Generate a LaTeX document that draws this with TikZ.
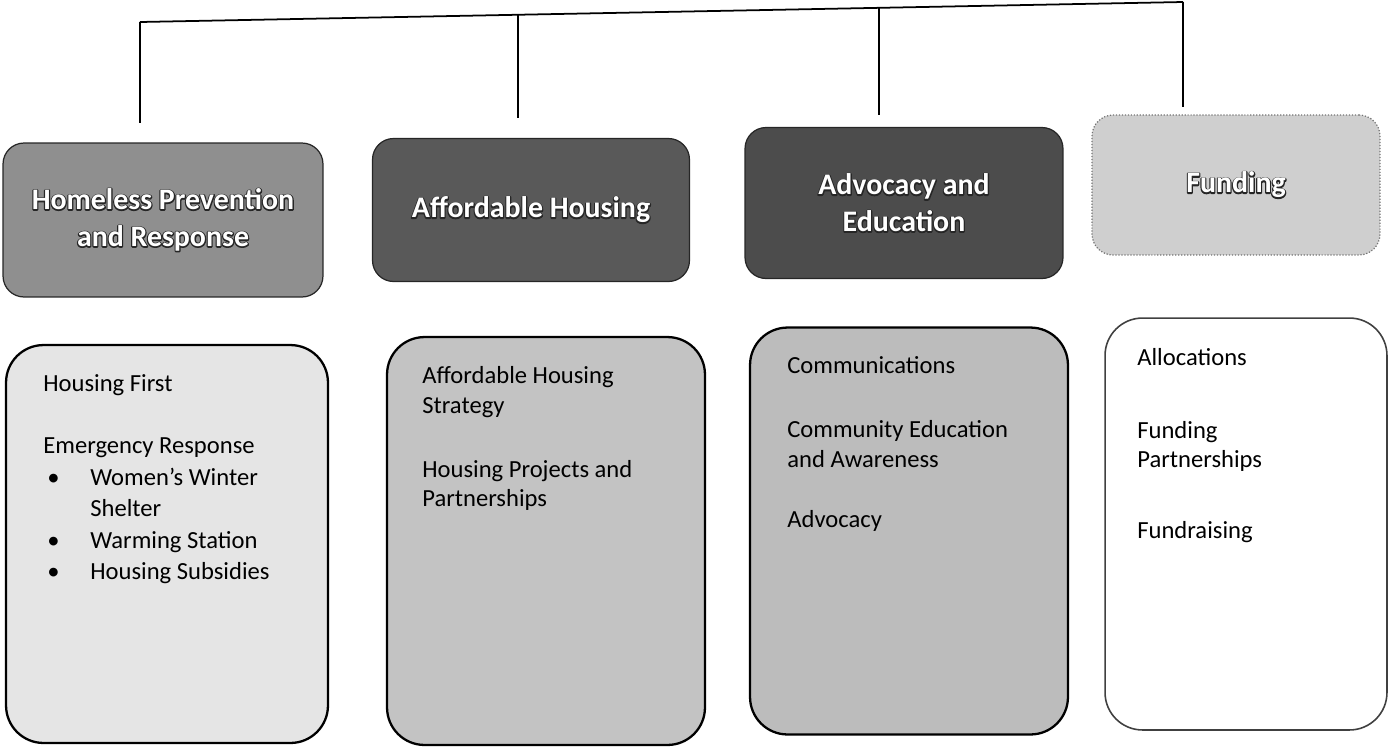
\documentclass[tikz,border=0pt]{standalone}
\usepackage{fontspec}
\setmainfont{Carlito}
\usetikzlibrary{positioning}
\definecolor{HeadA}{HTML}{8F8F8F}
\definecolor{HeadB}{HTML}{595959}
\definecolor{HeadC}{HTML}{4C4C4C}
\definecolor{HeadD}{HTML}{CFCFCF}
\definecolor{PanelA}{HTML}{E5E5E5}
\definecolor{PanelB}{HTML}{C3C3C3}
\definecolor{PanelC}{HTML}{BCBCBC}
% white letters over a dark stroked copy
\newcommand{\outl}[1]{\rlap{\special{pdf:literal direct 1 Tr 1.3 w 0.15 G 1 j}#1\special{pdf:literal direct 0 Tr}}#1}
\tikzset{
  head/.style={draw=black!85, line width=0.7pt, rounded corners=0.42cm,
               align=center, text=white, inner sep=0pt,
               font=\fontsize{17}{21}\selectfont\bfseries},
  panel/.style={draw=black, line width=1.3pt, rounded corners=0.75cm},
  item/.style={anchor=base west, inner sep=0pt,
               font=\fontsize{14}{17}\selectfont},
  link/.style={line width=1pt},
}
\begin{document}
\begin{tikzpicture}[x=0.02cm,y=-0.02cm]
  \useasboundingbox (0,0) rectangle (1389,748);
  % headings
  \node[head, fill=HeadA, minimum width=6.40cm, minimum height=3.08cm]
        (hpHead) at (163,220) {\outl{Homeless Prevention}\\\outl{and Response}};
  \node[head, fill=HeadB, minimum width=6.34cm, minimum height=2.86cm]
        (ahHead) at (531,210) {\outl{Affordable Housing}};
  \node[head, fill=HeadC, minimum width=6.36cm, minimum height=3.02cm]
        (aeHead) at (904,203) {\outl{Advocacy and}\\\outl{Education}};
  \node[head, fill=HeadD, draw=black!55, densely dotted, minimum width=5.76cm,
        minimum height=2.80cm] (fuHead) at (1236,185) {\outl{Funding}};
  % bar and drops
  \coordinate (t1) at (140,22);  \coordinate (e1) at (140,123);
  \coordinate (t2) at (518,14);  \coordinate (e2) at (518,118);
  \coordinate (t3) at (879,7);   \coordinate (e3) at (879,115);
  \coordinate (t4) at (1183,2);  \coordinate (e4) at (1183,107);
  \draw[link] (t1) -- (t4);
  \foreach \i in {1,...,4} \draw[link, line width=0.8pt] (t\i) -- (e\i);
  % panels
  \node[panel, fill=PanelA, minimum width=6.44cm, minimum height=7.96cm]
        (hpPanel) at (167,544) {};
  \node[panel, fill=PanelB, minimum width=6.36cm, minimum height=8.16cm]
        (ahPanel) at (546,541) {};
  \node[panel, fill=PanelC, minimum width=6.36cm, minimum height=8.14cm]
        (aePanel) at (909,531) {};
  \node[panel, fill=white, draw=black!75, line width=0.9pt,
        minimum width=5.64cm, minimum height=8.24cm] (fuPanel) at (1246,524) {};
  % panel texts
  \foreach \y/\t in {391/Housing First, 453/Emergency Response}
    \node[item] (hp\y) at (43,\y) {\t};
  \foreach \y/\t in {485/Women’s Winter, 516/Shelter, 548/Warming Station,
                     579/Housing Subsidies}
    \node[item] (hp\y) at (90,\y) {\t};
  \foreach \y in {485,548,579} \node[item] (hpb\y) at (47,\y) {•};
  \foreach \y/\t in {383/Affordable Housing, 413/Strategy,
                     477/Housing Projects and, 506/Partnerships}
    \node[item] (ah\y) at (422,\y) {\t};
  \foreach \y/\t in {373/Communications, 437/Community Education,
                     467/and Awareness, 527/Advocacy}
    \node[item] (ae\y) at (787,\y) {\t};
  \foreach \y/\t in {365/Allocations, 438/Funding, 467/Partnerships,
                     538/Fundraising}
    \node[item] (fu\y) at (1137,\y) {\t};
\end{tikzpicture}
\end{document}
